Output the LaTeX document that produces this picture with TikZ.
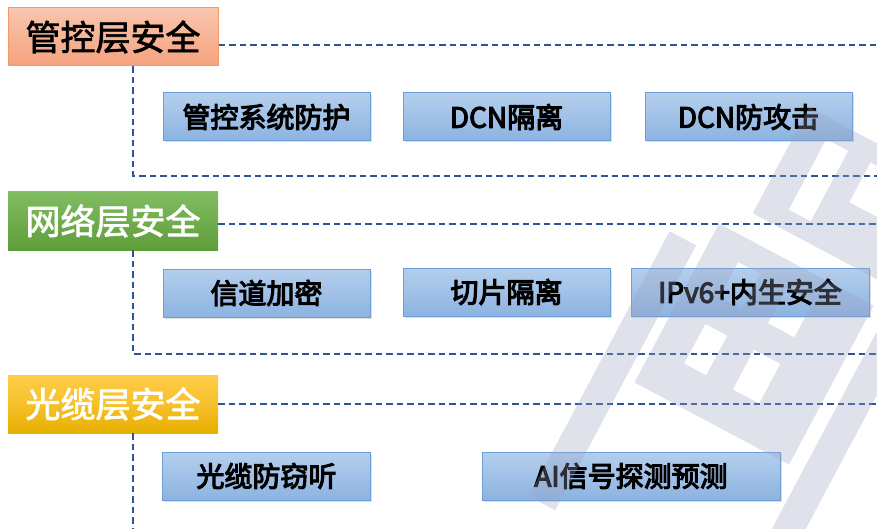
\documentclass[tikz,border=0pt]{standalone}
\usepackage{fontspec}
\setmainfont{Noto Sans CJK SC}
\usetikzlibrary{positioning,shadows}
\newcommand{\heavytext}[2]{\special{pdf:literal direct 2 Tr #1 w}#2\special{pdf:literal direct 0 Tr 0.4 w}}
\definecolor{dashblue}{HTML}{2F5597}
\definecolor{boxtop}{HTML}{B4CFEC}
\definecolor{boxbot}{HTML}{8DB3E2}
\definecolor{boxline}{HTML}{6A9FDA}
\definecolor{orgtop}{HTML}{F9C5AE}
\definecolor{orgbot}{HTML}{F4A27C}
\definecolor{orgline}{HTML}{F29A66}
\definecolor{grntop}{HTML}{82BC63}
\definecolor{grnbot}{HTML}{5E9E39}
\definecolor{goldtop}{HTML}{FFCD48}
\definecolor{goldbot}{HTML}{E8AF00}
\definecolor{wmark}{HTML}{9AA2BF}
\tikzset{
  layerhead/.style={rectangle, minimum width=210pt, minimum height=58pt, inner sep=0pt,
    font=\fontsize{35}{37}\selectfont},
  itembox/.style={rectangle, minimum height=48pt, inner sep=0pt, draw=boxline, line width=1pt,
    top color=boxtop, bottom color=boxbot,
    drop shadow={shadow xshift=1.5pt, shadow yshift=-1.5pt, opacity=0.25},
    font=\fontsize{28}{30}\selectfont},
  link/.style={draw=dashblue, line width=1.6pt, dash pattern=on 6.5pt off 4pt},
}
\begin{document}
\begin{tikzpicture}[x=1pt,y=-1pt]
\useasboundingbox (0,0) rectangle (877,529);
\fill[white] (0,0) rectangle (877,529);

% layer 1
\node[layerhead, draw=orgline, line width=1pt, top color=orgtop, bottom color=orgbot, text=black]
  (h1) at (113,37) {\heavytext{0.7}{管控层安全}};
\coordinate (e1) at (877,45);
\coordinate (v1) at (133,176);
\coordinate (b1) at (877,176);
\draw[link] (h1.east |- e1) -- (e1);
\draw[link] (h1.south -| v1) -- (v1) -- (b1);
\node[itembox, minimum width=207pt] (a1) at (266.5,117) {\heavytext{1.1}{管控系统防护}};
\node[itembox, minimum width=207pt] (a2) at (506.5,117) {\heavytext{1.1}{DCN隔离}};
\node[itembox, minimum width=207pt] (a3) at (748.5,117) {\heavytext{1.1}{DCN防攻击}};

% layer 2
\node[layerhead, top color=grntop, bottom color=grnbot, text=white]
  (h2) at (113,221) {\heavytext{0.7}{网络层安全}};
\coordinate (e2) at (877,224);
\coordinate (v2) at (133,354);
\coordinate (b2) at (877,354);
\draw[link] (h2.east |- e2) -- (e2);
\draw[link] (h2.south -| v2) -- (v2) -- (b2);
\node[itembox, minimum width=207pt] (c1) at (266.5,293) {\heavytext{1.1}{信道加密}};
\node[itembox, minimum width=207pt] (c2) at (506.5,292) {\heavytext{1.1}{切片隔离}};
\node[itembox, minimum width=238pt] (c3) at (750,292) {\heavytext{1.1}{IPv6+内生安全}};

% layer 3
\node[layerhead, top color=goldtop, bottom color=goldbot, middle color=goldtop!60!goldbot, text=white]
  (h3) at (113,404) {\heavytext{0.7}{光缆层安全}};
\coordinate (e3) at (877,404);
\coordinate (v3) at (133,529);
\draw[link] (h3.east |- e3) -- (e3);
\draw[link] (h3.south -| v3) -- (v3);
\node[itembox, minimum width=208pt] (d1) at (266.5,476) {\heavytext{1.1}{光缆防窃听}};
\node[itembox, minimum width=298pt] (d2) at (631,476) {\heavytext{1.1}{AI信号探测预测}};

% watermark
\begin{scope}
\clip (0,0) rectangle (877,529);
\begin{scope}[shift={(770,330)}, rotate=-28]
\fill[wmark, opacity=0.3, even odd rule]
  (-70,-215) rectangle (75,-95)
  (-40,-195) rectangle (-15,-115)
  (10,-195) rectangle (45,-150)
  (-95,-70) rectangle (80,110)
  (-60,-45) rectangle (-35,-5)
  (-5,-45) rectangle (25,-5)
  (-60,25) rectangle (-35,70)
  (-5,25) rectangle (25,70);
\fill[wmark, opacity=0.3] (-135,-40) rectangle (-105,260);
\fill[wmark, opacity=0.3] (95,-60) rectangle (125,200);
\end{scope}
\end{scope}
\end{tikzpicture}
\end{document}
